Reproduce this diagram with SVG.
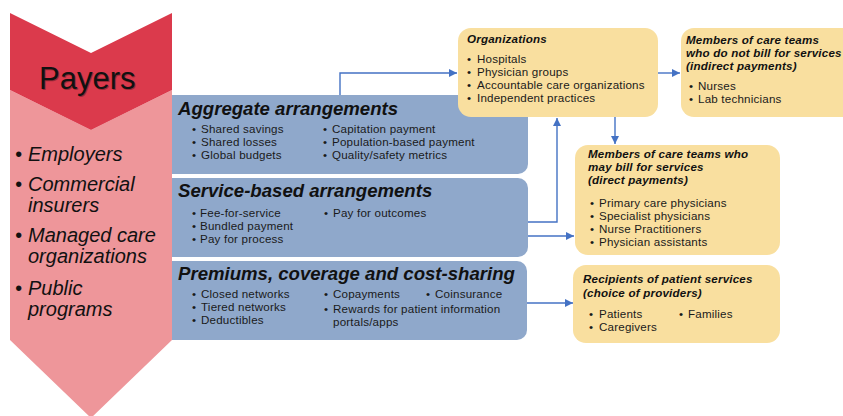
<svg xmlns="http://www.w3.org/2000/svg" width="843" height="416" viewBox="0 0 843 416">
<defs>
<marker id="ah" viewBox="0 0 10 10" refX="10" refY="5" markerWidth="8" markerHeight="8" markerUnits="userSpaceOnUse" orient="auto">
<path d="M0,0 L10,5 L0,10 z" fill="#4472C4"/>
</marker>
</defs>
<style>
.blue{fill:#8FA8CB}
.org{fill:#F9DF9F}
.ttl{font-family:"Liberation Sans",Arial,sans-serif;font-weight:bold;font-style:italic;font-size:18.6px;fill:#111}
.sm{font-family:"Liberation Sans",Arial,sans-serif;font-size:11.6px;letter-spacing:0.2px;fill:#1a1a1a}
.smt{font-family:"Liberation Sans",Arial,sans-serif;font-size:11.6px;letter-spacing:0.2px;font-weight:bold;font-style:italic;fill:#111}
.pl{font-family:"Liberation Sans",Arial,sans-serif;font-size:20px;font-style:italic;fill:#111}
.con{fill:none;stroke:#4472C4;stroke-width:1.4}
</style>

<g id="aggregate">
<rect class="blue" x="160" y="95" width="368" height="79" rx="10"/>
<text class="ttl" x="178" y="115">Aggregate arrangements</text>
<text class="sm"><tspan x="192" y="133">•</tspan><tspan x="201" y="133">Shared savings</tspan><tspan x="192" y="146">•</tspan><tspan x="201" y="146">Shared losses</tspan><tspan x="192" y="159">•</tspan><tspan x="201" y="159">Global budgets</tspan></text>
<text class="sm"><tspan x="323" y="133">•</tspan><tspan x="332" y="133">Capitation payment</tspan><tspan x="323" y="146">•</tspan><tspan x="332" y="146">Population-based payment</tspan><tspan x="323" y="159">•</tspan><tspan x="332" y="159">Quality/safety metrics</tspan></text>
</g>

<g id="service">
<rect class="blue" x="160" y="178" width="368" height="79" rx="10"/>
<text class="ttl" x="178" y="197">Service-based arrangements</text>
<text class="sm"><tspan x="192" y="217">•</tspan><tspan x="200" y="217">Fee-for-service</tspan><tspan x="192" y="230">•</tspan><tspan x="200" y="230">Bundled payment</tspan><tspan x="192" y="243">•</tspan><tspan x="200" y="243">Pay for process</tspan></text>
<text class="sm"><tspan x="324" y="217">•</tspan><tspan x="333" y="217">Pay for outcomes</tspan></text>
</g>

<g id="premiums">
<rect class="blue" x="160" y="261" width="367" height="79" rx="10"/>
<text class="ttl" x="178" y="280">Premiums, coverage and cost-sharing</text>
<text class="sm"><tspan x="192" y="298">•</tspan><tspan x="201" y="298">Closed networks</tspan><tspan x="192" y="311">•</tspan><tspan x="201" y="311">Tiered networks</tspan><tspan x="192" y="324">•</tspan><tspan x="201" y="324">Deductibles</tspan></text>
<text class="sm"><tspan x="324" y="298">•</tspan><tspan x="333" y="298">Copayments</tspan><tspan x="426" y="298">•</tspan><tspan x="435" y="298">Coinsurance</tspan><tspan x="324" y="313">•</tspan><tspan x="333" y="313">Rewards for patient information</tspan><tspan x="333" y="326">portals/apps</tspan></text>
</g>

<g id="payers">
<polygon points="10,90 91,130 172,90 172,340 91,418 10,340" fill="#EE969A"/>
<polygon points="10,13 91,53 172,13 172,90 91,130 10,90" fill="#DB3A4C"/>
<text x="40" y="90" font-family="'Liberation Sans',Arial,sans-serif" font-size="31" fill="#5a1a20" opacity="0.5">Payers</text>
<text x="39" y="89" font-family="'Liberation Sans',Arial,sans-serif" font-size="31" fill="#111">Payers</text>
<text class="pl"><tspan x="15" y="161">•</tspan><tspan x="28" y="161">Employers</tspan><tspan x="15" y="191">•</tspan><tspan x="28" y="191">Commercial</tspan><tspan x="28" y="212">insurers</tspan><tspan x="15" y="242">•</tspan><tspan x="28" y="242">Managed care</tspan><tspan x="28" y="263">organizations</tspan><tspan x="15" y="295">•</tspan><tspan x="28" y="295">Public</tspan><tspan x="28" y="316">programs</tspan></text>
</g>

<g id="connectors">
<polyline class="con" points="340,95 340,73 457,73" marker-end="url(#ah)"/>
<line class="con" x1="658" y1="73" x2="680" y2="73" marker-end="url(#ah)"/>
<line class="con" x1="615" y1="117" x2="615" y2="144" marker-end="url(#ah)"/>
<polyline class="con" points="528,222 557,222 557,118" marker-end="url(#ah)"/>
<line class="con" x1="528" y1="236" x2="574" y2="236" marker-end="url(#ah)"/>
<line class="con" x1="527" y1="303" x2="573" y2="303" marker-end="url(#ah)"/>
</g>

<g id="organizations">
<rect class="org" x="458" y="28" width="200" height="89" rx="13"/>
<text class="smt" x="467" y="43">Organizations</text>
<text class="sm"><tspan x="467" y="63">•</tspan><tspan x="477" y="63">Hospitals</tspan><tspan x="467" y="76">•</tspan><tspan x="477" y="76">Physician groups</tspan><tspan x="467" y="89">•</tspan><tspan x="477" y="89">Accountable care organizations</tspan><tspan x="467" y="102">•</tspan><tspan x="477" y="102">Independent practices</tspan></text>
</g>

<g id="indirect">
<rect class="org" x="681" y="28" width="175" height="89" rx="13"/>
<text class="smt"><tspan x="686" y="44">Members of care teams</tspan><tspan x="686" y="57">who do not bill for services</tspan><tspan x="686" y="70">(indirect payments)</tspan></text>
<text class="sm"><tspan x="689" y="90">•</tspan><tspan x="698" y="90">Nurses</tspan><tspan x="689" y="103">•</tspan><tspan x="698" y="103">Lab technicians</tspan></text>
</g>

<g id="direct">
<rect class="org" x="575" y="145" width="205" height="110" rx="13"/>
<text class="smt"><tspan x="588" y="158">Members of care teams who</tspan><tspan x="588" y="171">may bill for services</tspan><tspan x="588" y="184">(direct payments)</tspan></text>
<text class="sm"><tspan x="590" y="207">•</tspan><tspan x="599" y="207">Primary care physicians</tspan><tspan x="590" y="220">•</tspan><tspan x="599" y="220">Specialist physicians</tspan><tspan x="590" y="233">•</tspan><tspan x="599" y="233">Nurse Practitioners</tspan><tspan x="590" y="246">•</tspan><tspan x="599" y="246">Physician assistants</tspan></text>
</g>

<g id="recipients">
<rect class="org" x="573" y="265" width="207" height="78" rx="13"/>
<text class="smt"><tspan x="583" y="283">Recipients of patient services</tspan><tspan x="583" y="297">(choice of providers)</tspan></text>
<text class="sm"><tspan x="589" y="318">•</tspan><tspan x="599" y="318">Patients</tspan><tspan x="589" y="331">•</tspan><tspan x="599" y="331">Caregivers</tspan><tspan x="679" y="318">•</tspan><tspan x="688" y="318">Families</tspan></text>
</g>
</svg>
